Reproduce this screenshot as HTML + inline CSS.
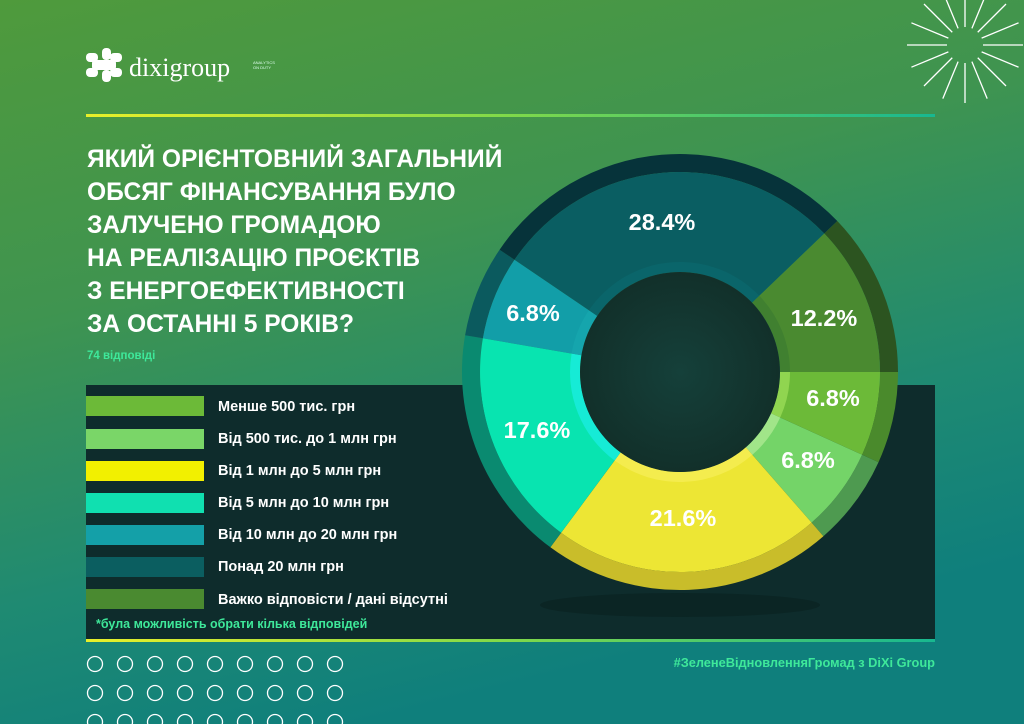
<!DOCTYPE html>
<html><head><meta charset="utf-8"><style>
html,body{margin:0;padding:0;width:1024px;height:724px;overflow:hidden;font-family:"Liberation Sans","DejaVu Sans",sans-serif}
</style></head><body>
<svg id="s" width="1024" height="724" viewBox="0 0 1024 724" xmlns="http://www.w3.org/2000/svg">
<defs>
<linearGradient id="bg" x1="0" y1="0" x2="0.35" y2="1">
<stop offset="0" stop-color="#4f9a3c"/><stop offset="0.4" stop-color="#3f9450"/><stop offset="0.75" stop-color="#1f8a72"/><stop offset="1" stop-color="#0f7f7c"/></linearGradient>
<linearGradient id="ln" x1="0" x2="1"><stop offset="0" stop-color="#e8ef2a"/><stop offset="0.5" stop-color="#7fd94a"/><stop offset="1" stop-color="#18b890"/></linearGradient>
<radialGradient id="hole"><stop offset="0" stop-color="#15403a"/><stop offset="1" stop-color="#12302a"/></radialGradient>
</defs>
<rect width="1024" height="724" fill="url(#bg)"/>
<rect x="86" y="385" width="849" height="255" fill="#0e2c2c"/>
<rect x="86" y="639" width="849" height="3" fill="url(#ln)"/>
<rect x="86" y="114" width="849" height="3" fill="url(#ln)"/>
<g fill="#fff">
<rect x="86" y="53" width="12" height="9" rx="4"/><rect x="86" y="68" width="12" height="9" rx="4"/>
<rect x="102" y="48" width="9" height="12" rx="4"/><rect x="102" y="70" width="9" height="12" rx="4"/>
<rect x="110" y="53" width="12" height="9" rx="4"/><rect x="110" y="68" width="12" height="9" rx="4"/>
<rect x="92" y="60" width="24" height="10" rx="3"/>
</g>
<text x="129" y="76" fill="#fff" font-family="Liberation Serif,serif" font-size="26">dixigroup</text>
<text x="253" y="64" fill="#dfe" font-size="4">ANALYTICS</text><text x="253" y="69" fill="#dfe" font-size="4">ON DUTY</text>
<g stroke="#fff" stroke-width="1.3" id="sun"></g>
<g fill="#fff" font-weight="bold" font-size="24.6">
<text x="87" y="167">ЯКИЙ ОРІЄНТОВНИЙ ЗАГАЛЬНИЙ</text>
<text x="87" y="200">ОБСЯГ ФІНАНСУВАННЯ БУЛО</text>
<text x="87" y="233">ЗАЛУЧЕНО ГРОМАДОЮ</text>
<text x="87" y="266">НА РЕАЛІЗАЦІЮ ПРОЄКТІВ</text>
<text x="87" y="299">З ЕНЕРГОЕФЕКТИВНОСТІ</text>
<text x="87" y="332">ЗА ОСТАННІ 5 РОКІВ?</text>
</g>
<text x="87" y="359" fill="#3ee89a" font-weight="bold" font-size="11.5">74 відповіді</text>
<g font-size="14.5" fill="#fff" font-weight="bold">
<rect x="86" y="396" width="118" height="20" fill="#6cba38"/><text x="218" y="411">Менше 500 тис. грн</text>
<rect x="86" y="429" width="118" height="20" fill="#7ad668"/><text x="218" y="443">Від 500 тис. до 1 млн грн</text>
<rect x="86" y="461" width="118" height="20" fill="#f2f000"/><text x="218" y="475">Від 1 млн до 5 млн грн</text>
<rect x="86" y="493" width="118" height="20" fill="#10e0b0"/><text x="218" y="507">Від 5 млн до 10 млн грн</text>
<rect x="86" y="525" width="118" height="20" fill="#14a0a8"/><text x="218" y="539">Від 10 млн до 20 млн грн</text>
<rect x="86" y="557" width="118" height="20" fill="#0b5e60"/><text x="218" y="571">Понад 20 млн грн</text>
<rect x="86" y="589" width="118" height="20" fill="#4a8a30"/><text x="218" y="604">Важко відповісти / дані відсутні</text>
</g>
<text x="96" y="628" fill="#3ee89a" font-weight="bold" font-size="12.5">*була можливість обрати кілька відповідей</text>
<text x="935" y="667" text-anchor="end" fill="#3ee89a" font-weight="bold" font-size="12.8">#ЗеленеВідновленняГромад з DiXi Group</text>
<g id="circ" fill="none" stroke="#fff" stroke-width="1.3"></g>
<ellipse cx="680" cy="605" rx="140" ry="12" fill="#061a18" opacity="0.35"/>
<g id="donut"></g>
<circle cx="680" cy="372" r="100" fill="url(#hole)"/>
<g fill="#fff" font-weight="bold" font-size="23.5" text-anchor="middle">
<text x="662" y="230">28.4%</text>
<text x="824" y="326">12.2%</text>
<text x="833" y="406">6.8%</text>
<text x="808" y="468">6.8%</text>
<text x="683" y="526">21.6%</text>
<text x="537" y="438">17.6%</text>
<text x="533" y="321">6.8%</text>
</g>
</svg>
<script>
var ns="http://www.w3.org/2000/svg";
function P(r1,r2,a0,a1,cx,cy){var t=Math.PI/180,x=function(r,a){return (cx+r*Math.cos(a*t)).toFixed(1)},y=function(r,a){return (cy+r*Math.sin(a*t)).toFixed(1)},l=(a1-a0)>180?1:0;
return "M"+x(r2,a0)+","+y(r2,a0)+"A"+r2+","+r2+" 0 "+l+" 1 "+x(r2,a1)+","+y(r2,a1)+"L"+x(r1,a1)+","+y(r1,a1)+"A"+r1+","+r1+" 0 "+l+" 0 "+x(r1,a0)+","+y(r1,a0)+"Z";}
var segs=[[6.8,"#6cba38","#4a8a2c","#a8e860"],[6.8,"#74d468","#4e9a50","#c0f0a0"],[21.6,"#ede634","#c9bd2a","#f8f060"],[17.6,"#08e4b0","#0a8a70","#20f0f0"],[6.8,"#129ea8","#0b5a5e","#18aab0"],[28.4,"#0a5e62","#06333a","#0a6a70"],[12.2,"#4a8a30","#2c5420","#3a7a30"]];
var tot=0;segs.forEach(function(s){tot+=s[0]});
var a=0,d=document.getElementById("donut");
segs.forEach(function(s){var a1=a+s[0]/tot*360;
[[200,218,s[2]],[100,200,s[1]],[100,110,s[3]]].forEach(function(q){var p=document.createElementNS(ns,"path");p.setAttribute("d",P(q[0],q[1],a,a1,680,372));p.setAttribute("fill",q[2]);if(q[0]==100&&q[1]==110)p.setAttribute("opacity","0.6");d.appendChild(p);});a=a1;});
var c=document.getElementById("circ");
for(var r=0;r<3;r++)for(var i=0;i<9;i++){var e=document.createElementNS(ns,"circle");e.setAttribute("cx",95+i*30);e.setAttribute("cy",664+r*29);e.setAttribute("r",7.5);c.appendChild(e);}
var sn=document.getElementById("sun");
for(var k=0;k<16;k++){var an=k*22.5*Math.PI/180,l=document.createElementNS(ns,"line");
l.setAttribute("x1",965+18*Math.cos(an));l.setAttribute("y1",45+18*Math.sin(an));l.setAttribute("x2",965+58*Math.cos(an));l.setAttribute("y2",45+58*Math.sin(an));sn.appendChild(l);}
</script>
</body></html>
